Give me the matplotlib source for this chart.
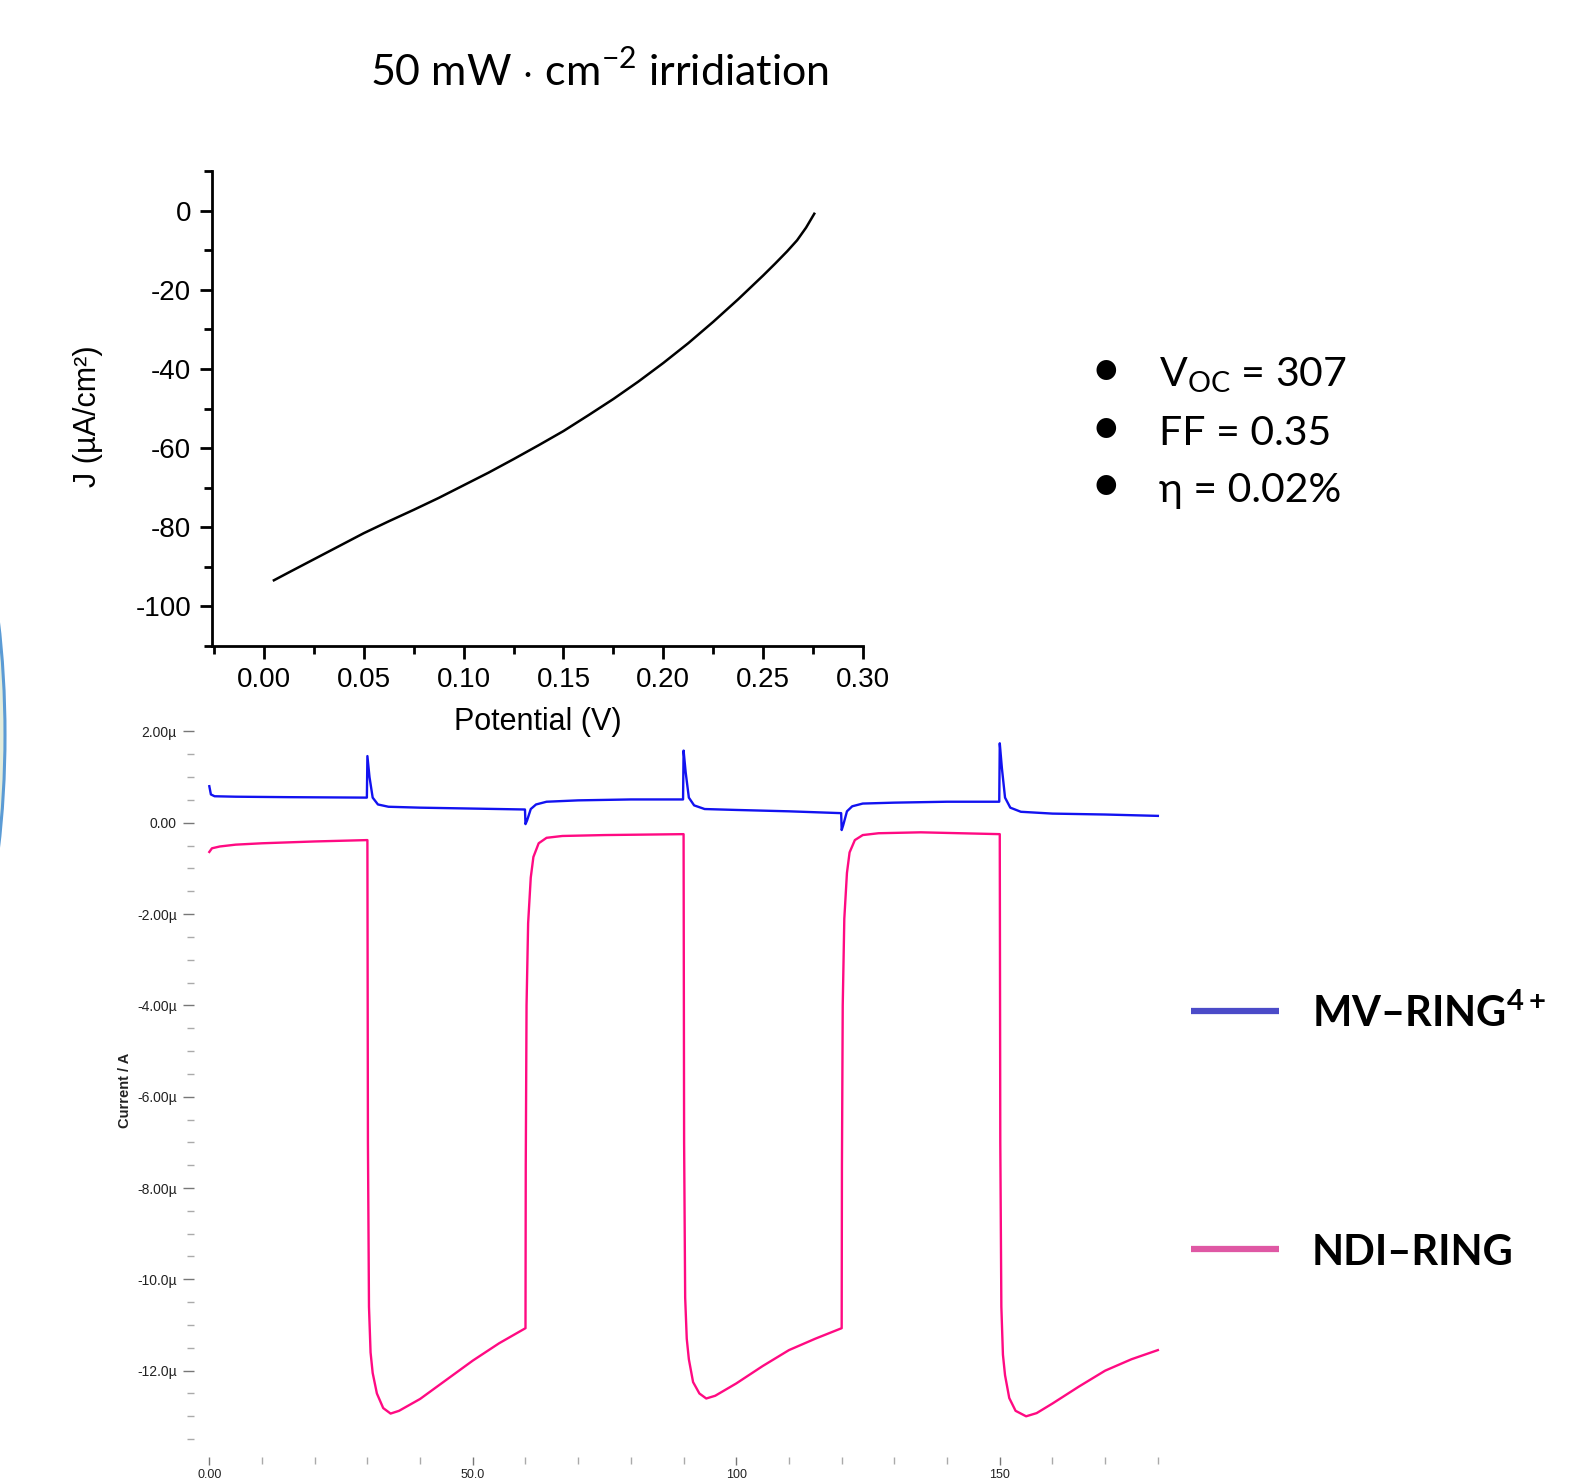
import numpy as np
import matplotlib
matplotlib.use("Agg")
import matplotlib.pyplot as plt
from matplotlib.patches import Ellipse
from matplotlib.lines import Line2D
from matplotlib.ticker import MultipleLocator, FixedLocator

plt.rcParams['axes.unicode_minus'] = False
plt.rcParams['font.family'] = ['Liberation Sans', 'DejaVu Sans']
plt.rcParams['mathtext.fontset'] = 'custom'
plt.rcParams['mathtext.rm'] = 'Lato'
plt.rcParams['mathtext.bf'] = 'Lato:bold'

# J-V curve (top panel)
potential = [0.005, 0.0125, 0.025, 0.0375, 0.05, 0.0625, 0.075, 0.0875, 0.10, 0.1125,
             0.125, 0.1375, 0.15, 0.1625, 0.175, 0.1875, 0.20, 0.2125, 0.225, 0.2375,
             0.25, 0.256, 0.262, 0.267, 0.2715, 0.2756]
current_density = [-93.4, -91.4, -88.1, -84.8, -81.5, -78.5, -75.6, -72.6, -69.4, -66.2,
                   -62.8, -59.3, -55.7, -51.7, -47.6, -43.2, -38.5, -33.5, -28.1, -22.4,
                   -16.4, -13.4, -10.3, -7.5, -4.3, -0.8]

# chronoamperometry (bottom panel), current in microamps
t_mv = [0, 0.3, 1, 5, 15, 29.9, 30, 30.4, 31, 32, 34, 40, 50, 59.9,
        60, 60.3, 61, 62, 64, 70, 80, 89.9, 90, 90.4, 91, 92, 94, 100, 110, 119.9,
        120, 120.3, 121, 122, 124, 130, 140, 149.9, 150, 150.4, 151, 152, 154,
        160, 170, 180]
i_mv = [0.80, 0.62, 0.58, 0.57, 0.56, 0.55, 1.46, 1.0, 0.55, 0.40, 0.35, 0.33, 0.31, 0.29,
        -0.03, 0.05, 0.30, 0.40, 0.46, 0.49, 0.51, 0.51, 1.58, 1.1, 0.55, 0.38, 0.30, 0.28, 0.25, 0.21,
        -0.16, -0.05, 0.25, 0.36, 0.42, 0.44, 0.46, 0.46, 1.74, 1.2, 0.55, 0.33, 0.24,
        0.20, 0.18, 0.15]

t_ndi = [0, 0.5, 2, 5, 10, 20, 30, 30.1, 30.3, 30.6, 31, 31.8, 33, 34.4, 36, 40, 45, 50, 55, 60,
         60.05, 60.2, 60.5, 61, 61.5, 62.5, 64, 67, 75, 90,
         90.1, 90.3, 90.6, 91, 91.8, 93, 94.3, 96, 100, 105, 110, 115, 120,
         120.05, 120.2, 120.5, 121, 121.5, 122.5, 124, 127, 135, 150,
         150.1, 150.3, 150.6, 151, 151.8, 153, 155, 157, 160, 165, 170, 175, 180]
i_ndi = [-0.64, -0.56, -0.52, -0.48, -0.45, -0.41, -0.38, -7.0, -10.6, -11.6, -12.05, -12.5, -12.82,
         -12.94, -12.88, -12.62, -12.2, -11.78, -11.4, -11.07,
         -7.5, -4.0, -2.2, -1.2, -0.75, -0.45, -0.33, -0.29, -0.27, -0.25,
         -7.0, -10.4, -11.3, -11.75, -12.25, -12.5, -12.61, -12.55, -12.28, -11.9, -11.55, -11.3, -11.07,
         -7.5, -4.0, -2.1, -1.1, -0.65, -0.38, -0.27, -0.23, -0.21, -0.25,
         -7.0, -10.6, -11.65, -12.1, -12.6, -12.88, -13.0, -12.93, -12.72, -12.35, -12.0, -11.75, -11.55]

y_ticks = [2, 0, -2, -4, -6, -8, -10, -12]
y_labels = ['2.00\u00b5', '0.00', '-2.00\u00b5', '-4.00\u00b5', '-6.00\u00b5',
            '-8.00\u00b5', '-10.0\u00b5', '-12.0\u00b5']
x_ticks = [0, 50, 100, 150]
x_labels = ['0.00', '50.0', '100', '150']

W, H = 1590, 1482
fig = plt.figure(figsize=(W / 100, H / 100), dpi=100)

def box(l, t, r, b):
    return [l / W, 1 - b / H, (r - l) / W, (b - t) / H]

# ellipse edge peeking in from the left
fig.add_artist(Ellipse((-83 / W, 1 - 735 / H), 176 / W, 600 / H, transform=fig.transFigure,
                       facecolor='#e3ecdc', edgecolor='#5b9bd5', lw=2.2, zorder=0))

# top panel
ax = fig.add_axes(box(212, 171, 863, 646))
ax.plot(potential, current_density, color='black', lw=1.8)
ax.set_xlim(-0.026, 0.30)
ax.set_ylim(-110, 10)
for s in ['top', 'right']:
    ax.spines[s].set_visible(False)
for s in ['left', 'bottom']:
    ax.spines[s].set_linewidth(2)
ax.xaxis.set_major_locator(MultipleLocator(0.05))
ax.xaxis.set_minor_locator(MultipleLocator(0.025))
ax.yaxis.set_major_locator(MultipleLocator(20))
ax.yaxis.set_minor_locator(MultipleLocator(10))
ax.xaxis.set_major_formatter(matplotlib.ticker.FormatStrFormatter('%.2f'))
ax.tick_params(which='major', length=9, width=2, labelsize=20, pad=6)
ax.tick_params(which='minor', length=6, width=2)
ax.set_xlabel('Potential (V)', fontsize=22, labelpad=10)
fig.text(88 / W, 1 - 416 / H, 'J (\u00b5A/cm\u00b2)', rotation=90, fontsize=22,
         ha='center', va='center')

fig.text(600 / W, 1 - 86 / H, r'50 mW $\cdot$ cm$^{-2}$ irridiation', fontsize=31,
         family=['Lato', 'DejaVu Sans'], ha='center', va='baseline')

stats = [r'V$_{\mathrm{OC}}$ = 307', 'FF = 0.35', '\u03b7 = 0.02%']
for k, s in enumerate(stats):
    yb = [386.7, 445, 501.7][k]
    fig.text(1106 / W, 1 - (yb - 15) / H, '\u2022', fontsize=38, ha='center', va='center',
             family=['Lato', 'DejaVu Sans'])
    fig.text(1159 / W, 1 - yb / H, s, fontsize=29.5, ha='left', va='baseline',
             family=['Lato', 'DejaVu Sans'])

# bottom panel
bx = fig.add_axes(box(193.5, 720, 1168.4, 1457.4))
bx.patch.set_visible(False)
bx.plot(t_mv, i_mv, color='#1212f0', lw=1.7)
bx.plot(t_ndi, i_ndi, color='#ff0a82', lw=1.7)
bx.set_xlim(-3, 182)
bx.set_ylim(-13.9, 2.25)
for s in bx.spines.values():
    s.set_visible(False)
bx.yaxis.set_major_locator(FixedLocator(y_ticks))
bx.set_yticklabels(y_labels)
bx.yaxis.set_minor_locator(MultipleLocator(0.5))
bx.xaxis.set_major_locator(FixedLocator(x_ticks))
bx.set_xticklabels(x_labels)
bx.xaxis.set_minor_locator(MultipleLocator(10))
bx.tick_params(which='major', length=8, width=1, color='#777777', labelsize=10,
               labelcolor='#222222', pad=4)
bx.tick_params(which='minor', length=5, width=1, color='#aaaaaa')
bx.tick_params(axis='x', which='major', length=6, pad=2, labelsize=9)
fig.text(125 / W, 1 - 1090 / H, 'Current / A', rotation=90, fontsize=10.5, fontweight='bold',
         ha='center', va='center', color='#222222')

# legend
for yl, col, lab, yb in [(1011, '#4b4bc8', r'MV–RING$^{\mathbf{4+}}$', 1026.7),
                         (1249, '#df58a4', 'NDI–RING', 1265)]:
    fig.add_artist(Line2D([1191 / W, 1279 / W], [1 - yl / H, 1 - yl / H],
                          transform=fig.transFigure, color=col, lw=4.5, solid_capstyle='butt'))
    fig.text(1312 / W, 1 - yb / H, lab, fontsize=30,
             fontweight='bold', family=['Lato', 'DejaVu Sans'], ha='left', va='baseline')

fig.savefig('out.png', dpi=100)
